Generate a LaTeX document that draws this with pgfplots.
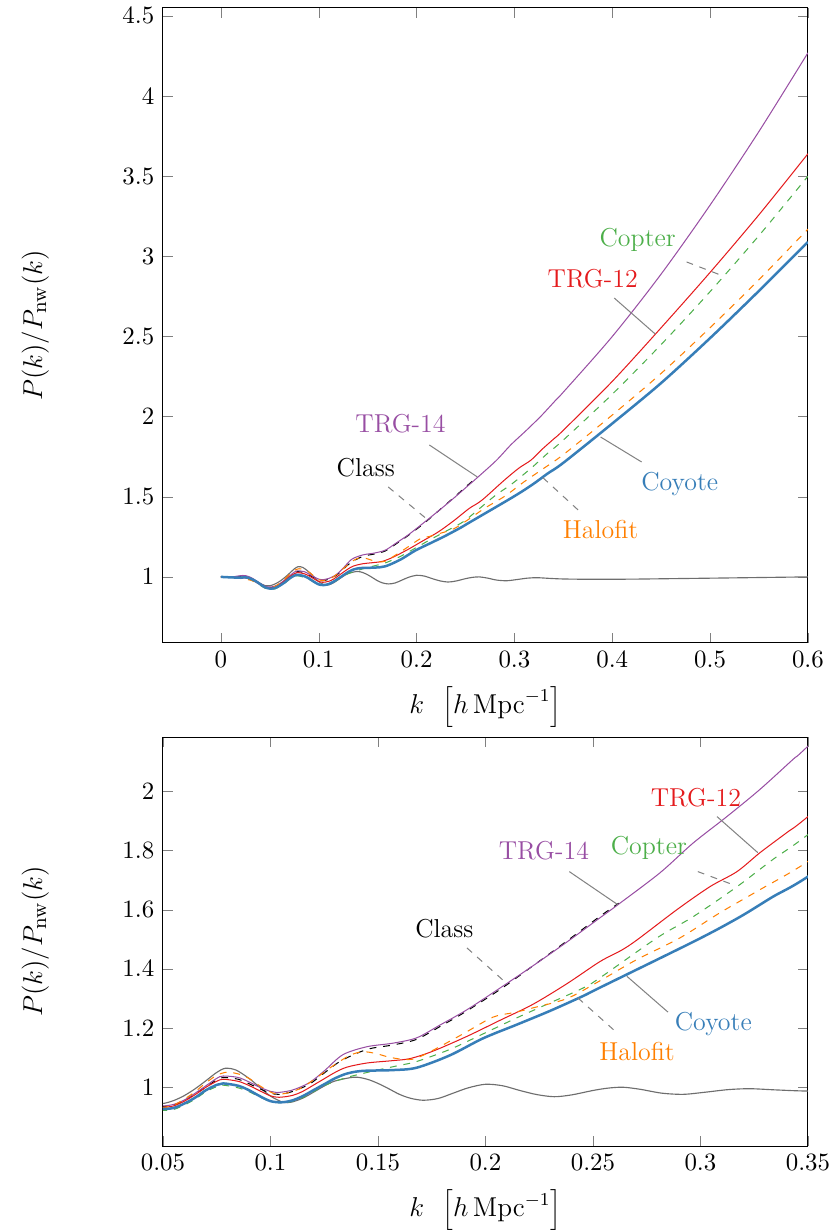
\documentclass[border=0pt]{standalone}
\usepackage{pgfplots}
\usepackage{pgfplotstable}
\pgfplotsset{compat=1.18}
\definecolor{cBlue}{RGB}{55,126,184}
\definecolor{cRed}{RGB}{228,26,28}
\definecolor{cGreen}{RGB}{77,175,74}
\definecolor{cPurple}{RGB}{152,78,163}
\definecolor{cOrange}{RGB}{255,127,0}
\definecolor{cGray}{RGB}{110,110,110}
\definecolor{cPin}{RGB}{130,130,130}

\pgfplotstableread{
k y
0 1.000
0.005 0.999
0.010 0.997
0.015 0.996
0.020 0.999
0.025 1.002
0.030 0.995
0.035 0.978
0.040 0.960
0.045 0.946
0.050 0.945
0.055 0.955
0.060 0.972
0.065 0.995
0.070 1.022
0.075 1.050
0.079 1.064
0.084 1.058
0.090 1.030
0.095 1.000
0.100 0.970
0.106 0.949
0.110 0.950
0.115 0.963
0.120 0.983
0.125 1.004
0.130 1.021
0.139 1.034
0.145 1.027
0.150 1.013
0.155 0.995
0.160 0.976
0.165 0.963
0.171 0.956
0.178 0.962
0.185 0.980
0.192 0.998
0.200 1.010
0.208 1.005
0.216 0.989
0.224 0.975
0.232 0.968
0.240 0.974
0.250 0.989
0.257 0.997
0.264 1.000
0.272 0.993
0.282 0.980
0.292 0.976
0.302 0.983
0.313 0.992
0.323 0.995
0.335 0.991
0.350 0.987
0.380 0.985
0.420 0.986
0.460 0.989
0.500 0.992
0.550 0.996
0.600 1.000
}\linT

\pgfplotstableread{
k y
0 1.000
0.010 0.998
0.020 1.000
0.025 1.000
0.030 0.990
0.035 0.975
0.040 0.957
0.045 0.940
0.050 0.935
0.055 0.940
0.060 0.955
0.065 0.977
0.070 1.000
0.075 1.025
0.078 1.033
0.085 1.027
0.090 1.012
0.095 0.995
0.100 0.980
0.104 0.976
0.110 0.985
0.118 1.010
0.125 1.048
0.133 1.090
0.145 1.128
0.157 1.143
0.168 1.162
0.180 1.210
0.190 1.252
0.2067 1.330
0.222 1.410
0.238 1.495
0.2533 1.578
0.262 1.622
}\classT

\pgfplotstableread{
k y
0 1.000
0.010 1.000
0.015 1.003
0.020 1.008
0.025 1.008
0.030 0.998
0.035 0.980
0.040 0.960
0.045 0.942
0.050 0.937
0.055 0.942
0.060 0.957
0.065 0.980
0.070 1.005
0.075 1.030
0.078 1.038
0.085 1.033
0.090 1.018
0.095 1.000
0.100 0.986
0.103 0.982
0.110 0.990
0.118 1.015
0.125 1.055
0.1337 1.110
0.1449 1.137
0.157 1.149
0.168 1.167
0.1788 1.210
0.1914 1.262
0.2067 1.335
0.222 1.410
0.2379 1.491
0.2533 1.573
0.2616 1.617
0.2812 1.725
0.2965 1.825
0.3123 1.915
0.3277 2.007
0.343 2.108
0.350 2.153
0.400 2.500
0.450 2.890
0.500 3.320
0.550 3.780
0.600 4.270
}\trgfT

\pgfplotstableread{
k y
0 1.000
0.010 0.997
0.020 0.995
0.025 0.993
0.030 0.985
0.035 0.970
0.040 0.952
0.045 0.935
0.050 0.932
0.055 0.937
0.060 0.953
0.065 0.975
0.070 1.000
0.075 1.020
0.078 1.027
0.085 1.020
0.090 1.006
0.095 0.988
0.100 0.971
0.104 0.966
0.110 0.972
0.115 0.986
0.123 1.020
0.130 1.050
0.1356 1.068
0.145 1.082
0.157 1.090
0.165 1.097
0.1756 1.122
0.1914 1.172
0.2067 1.226
0.222 1.280
0.2379 1.350
0.2533 1.425
0.263 1.462
0.2705 1.498
0.289 1.600
0.3044 1.678
0.317 1.729
0.3277 1.793
0.3402 1.861
0.350 1.915
0.400 2.220
0.450 2.555
0.500 2.900
0.550 3.260
0.600 3.640
}\trgtT

\pgfplotstableread{
k y
0 1.000
0.010 0.996
0.020 0.993
0.025 0.990
0.030 0.983
0.035 0.967
0.040 0.948
0.045 0.930
0.050 0.922
0.055 0.925
0.060 0.940
0.065 0.960
0.070 0.985
0.075 1.002
0.078 1.007
0.085 0.998
0.090 0.985
0.095 0.967
0.100 0.952
0.106 0.947
0.110 0.952
0.115 0.965
0.120 0.985
0.125 1.005
0.130 1.020
0.137 1.036
0.145 1.050
0.1523 1.062
0.160 1.074
0.168 1.087
0.1835 1.128
0.1988 1.180
0.2147 1.235
0.230 1.285
0.2453 1.335
0.2533 1.370
0.2798 1.505
0.2965 1.576
0.317 1.678
0.3337 1.770
0.350 1.854
0.400 2.140
0.450 2.450
0.500 2.780
0.550 3.130
0.600 3.500
}\copterT

\pgfplotstableread{
k y
0 1.000
0.010 0.995
0.020 0.990
0.025 0.985
0.030 0.980
0.035 0.968
0.040 0.952
0.045 0.937
0.050 0.932
0.055 0.940
0.060 0.960
0.065 0.985
0.070 1.015
0.075 1.040
0.0798 1.051
0.085 1.045
0.090 1.030
0.095 1.005
0.1012 0.980
0.106 0.978
0.110 0.985
0.115 1.000
0.122 1.035
0.129 1.072
0.137 1.108
0.1430 1.120
0.149 1.114
0.155 1.102
0.161 1.095
0.167 1.096
0.1756 1.125
0.1895 1.180
0.2035 1.237
0.213 1.252
0.222 1.268
0.238 1.300
0.2533 1.360
0.270 1.430
0.2905 1.505
0.3091 1.590
0.3277 1.668
0.350 1.763
0.400 2.010
0.450 2.270
0.500 2.555
0.550 2.855
0.600 3.170
}\halofitT

\pgfplotstableread{
k y
0 1.000
0.010 0.997
0.020 0.995
0.025 0.997
0.030 0.990
0.035 0.975
0.040 0.955
0.045 0.935
0.050 0.927
0.055 0.930
0.060 0.945
0.065 0.965
0.070 0.990
0.075 1.008
0.078 1.013
0.085 1.005
0.090 0.990
0.095 0.970
0.100 0.953
0.105 0.949
0.110 0.955
0.115 0.970
0.120 0.990
0.125 1.010
0.130 1.030
0.135 1.045
0.140 1.053
0.145 1.056
0.157 1.058
0.168 1.066
0.1835 1.108
0.1988 1.165
0.2147 1.212
0.230 1.258
0.2453 1.308
0.2533 1.337
0.2984 1.498
0.3184 1.576
0.3337 1.644
0.350 1.712
0.400 1.957
0.450 2.210
0.500 2.490
0.550 2.785
0.600 3.090
}\coyoteT

\tikzset{
  pinl/.style={cPin, line width=0.45pt},
  lab/.style={font=\fontsize{11.4}{13.7}\selectfont},
}
\pgfplotsset{
  every axis/.append style={
    scale only axis,
    width=283.8pt,
    ylabel={$P(k)/P_{\mathrm{nw}}(k)$},
    xlabel={$k\ \,\left[h\,\mathrm{Mpc}^{-1}\right]$},
    ylabel style={at={(axis description cs:-0.198,0.5)}, anchor=center, font=\fontsize{12.5}{15}\selectfont},
    xlabel style={at={(axis description cs:0.5,0)}, anchor=center, yshift=-28pt, font=\fontsize{12}{14.4}\selectfont},
  },
  lin/.style={cGray, line width=0.5pt, smooth},
  cls/.style={black, dashed, line width=0.45pt, smooth},
  tfour/.style={cPurple, line width=0.45pt, smooth},
  ttwo/.style={cRed, line width=0.45pt, smooth},
  cop/.style={cGreen, dashed, line width=0.45pt, smooth},
  hal/.style={cOrange, dashed, line width=0.45pt, smooth},
  coy/.style={cBlue, line width=1.1pt, smooth},
}

\begin{document}
\fontsize{10.95}{13.6}\selectfont
\begin{tikzpicture}
\useasboundingbox (-71.7pt,-259.2pt) rectangle (295.7pt,282.9pt);
\begin{axis}[
  at={(0,0)}, anchor=south west,
  height=279.4pt,
  xmin=-0.0593, xmax=0.6,
  ymin=0.588, ymax=4.55,
  xtick={0,0.1,0.2,0.3,0.4,0.5,0.6},
  ytick={1,1.5,2,2.5,3,3.5,4,4.5},
]
\addplot[lin] table[x=k,y=y] {\linT};
\addplot[cls] table[x=k,y=y] {\classT};
\addplot[tfour] table[x=k,y=y] {\trgfT};
\addplot[ttwo] table[x=k,y=y] {\trgtT};
\addplot[cop] table[x=k,y=y] {\copterT};
\addplot[hal] table[x=k,y=y] {\halofitT};
\addplot[coy] table[x=k,y=y] {\coyoteT};
\node[lab, text=cPurple] at (axis cs:0.1835,1.954) {TRG-14};
\draw[pinl] (axis cs:0.213,1.823) -- (axis cs:0.262,1.624);
\node[lab, text=black] at (axis cs:0.148,1.68) {Class};
\draw[pinl, dashed] (axis cs:0.171,1.561) -- (axis cs:0.209,1.368);
\node[lab, text=cOrange] at (axis cs:0.388,1.293) {Halofit};
\draw[pinl, dashed] (axis cs:0.365,1.418) -- (axis cs:0.326,1.636);
\node[lab, text=cBlue] at (axis cs:0.469,1.58) {Coyote};
\draw[pinl] (axis cs:0.430,1.717) -- (axis cs:0.388,1.873);
\node[lab, text=cGreen] at (axis cs:0.426,3.102) {Copter};
\draw[pinl, dashed] (axis cs:0.476,2.965) -- (axis cs:0.513,2.878);
\node[lab, text=cRed] at (axis cs:0.380,2.859) {TRG-12};
\draw[pinl] (axis cs:0.402,2.740) -- (axis cs:0.444,2.515);
\end{axis}

\begin{axis}[
  at={(0,-221.4pt)}, anchor=south west,
  height=180pt,
  xmin=0.05, xmax=0.35,
  ymin=0.801, ymax=2.184,
  xtick={0.05,0.1,0.15,0.2,0.25,0.3,0.35},
  ytick={1,1.2,1.4,1.6,1.8,2},
  x tick label style={/pgf/number format/fixed, /pgf/number format/precision=2},
]
\addplot[lin] table[x=k,y=y] {\linT};
\addplot[cls] table[x=k,y=y] {\classT};
\addplot[tfour] table[x=k,y=y] {\trgfT};
\addplot[ttwo] table[x=k,y=y] {\trgtT};
\addplot[cop] table[x=k,y=y] {\copterT};
\addplot[hal] table[x=k,y=y] {\halofitT};
\addplot[coy] table[x=k,y=y] {\coyoteT};
\node[lab, text=cPurple] at (axis cs:0.2272,1.80) {TRG-14};
\draw[pinl] (axis cs:0.239,1.729) -- (axis cs:0.2616,1.617);
\node[lab, text=cRed] at (axis cs:0.2979,1.98) {TRG-12};
\draw[pinl] (axis cs:0.3077,1.915) -- (axis cs:0.3267,1.793);
\node[lab, text=cGreen] at (axis cs:0.276,1.809) {Copter};
\draw[pinl, dashed] (axis cs:0.2988,1.729) -- (axis cs:0.3165,1.681);
\node[lab, text=black] at (axis cs:0.1809,1.535) {Class};
\draw[pinl, dashed] (axis cs:0.1914,1.471) -- (axis cs:0.2091,1.356);
\node[lab, text=cOrange] at (axis cs:0.2705,1.12) {Halofit};
\draw[pinl, dashed] (axis cs:0.243,1.302) -- (axis cs:0.2598,1.193);
\node[lab, text=cBlue] at (axis cs:0.306,1.215) {Coyote};
\draw[pinl] (axis cs:0.2658,1.375) -- (axis cs:0.2849,1.254);
\end{axis}
\end{tikzpicture}
\end{document}
